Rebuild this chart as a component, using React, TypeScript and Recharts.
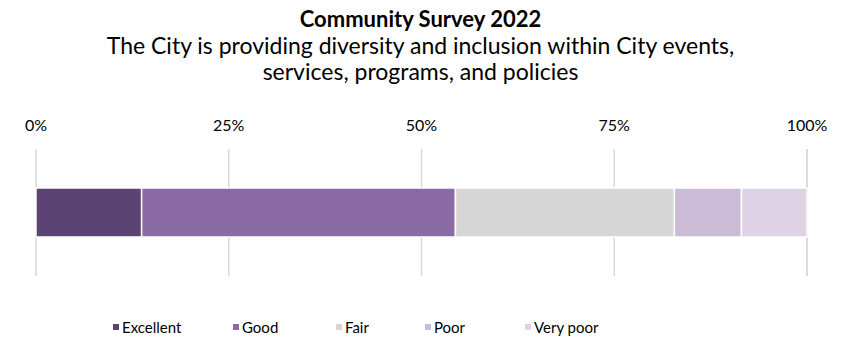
import React from "react";
import { BarChart, Bar, XAxis, YAxis, CartesianGrid } from "recharts";

const categories = ["Community Survey 2022"];
const seriesNames = ["Excellent", "Good", "Fair", "Poor", "Very poor"];
const excellent = [13.7];
const good = [40.7];
const fair = [28.4];
const poor = [8.7];
const veryPoor = [8.5];
const tickValues = [0, 25, 50, 75, 100];
const colors = ["#5B4373", "#8A6BA6", "#D6D6D6", "#CBBBD6", "#DDD3E5"];

const seriesValues = [excellent, good, fair, poor, veryPoor];
const data = categories.map((c, i) => {
  const row: Record<string, any> = { name: c };
  seriesNames.forEach((s, k) => {
    row[s] = seriesValues[k][i];
  });
  return row;
});

const FONT = "Lato, 'Open Sans', sans-serif";
const legendItemWidths = [120, 103, 89, 100, 90];

export default function App() {
  return (
    <div
      style={{
        position: "absolute",
        left: 0,
        top: 0,
        width: 841,
        height: 339,
        background: "#fff",
        fontFamily: FONT,
        color: "#000",
      }}
    >
      <div
        style={{
          position: "absolute",
          left: 0,
          top: 6,
          width: 841,
          textAlign: "center",
          fontSize: 22,
          fontWeight: 700,
          lineHeight: "26px",
        }}
      >
        Community Survey 2022
      </div>
      <div
        style={{
          position: "absolute",
          left: 0,
          top: 32,
          width: 841,
          textAlign: "center",
          fontSize: 23,
          lineHeight: "26px",
        }}
      >
        The City is providing diversity and inclusion within City events,
        <br />
        services, programs, and policies
      </div>
      <div style={{ position: "absolute", left: 0, top: 0 }}>
        <BarChart
          width={841}
          height={339}
          data={data}
          layout="vertical"
          margin={{ top: 119, right: 34, bottom: 63, left: 36 }}
          barCategoryGap={0}
        >
          <CartesianGrid
            horizontal={false}
            vertical={true}
            stroke="#D9D9D9"
            strokeWidth={1.5}
          />
          <XAxis
            type="number"
            orientation="top"
            domain={[0, 100]}
            ticks={tickValues}
            tickFormatter={(v: number) => `${v}%`}
            axisLine={false}
            tickLine={false}
            tickSize={0}
            tickMargin={18}
            height={30}
            interval={0}
            tick={{ fill: "#000", fontSize: 16, fontFamily: FONT }}
          />
          <YAxis type="category" dataKey="name" hide />
          {seriesNames.map((s, k) => (
            <Bar
              key={s}
              dataKey={s}
              stackId="a"
              fill={colors[k]}
              stroke="#fff"
              strokeWidth={1.5}
              barSize={49}
              isAnimationActive={false}
            />
          ))}
        </BarChart>
      </div>
      <div
        style={{
          position: "absolute",
          left: 113,
          top: 317,
          display: "flex",
          alignItems: "center",
          fontSize: 15,
          lineHeight: "20px",
        }}
      >
        {seriesNames.map((s, k) => (
          <div
            key={s}
            style={{
              display: "flex",
              alignItems: "center",
              width: legendItemWidths[k],
              whiteSpace: "nowrap",
            }}
          >
            <span
              style={{
                display: "inline-block",
                width: 6,
                height: 6,
                background: colors[k],
                marginRight: 3,
              }}
            />
            <span>{s}</span>
          </div>
        ))}
      </div>
    </div>
  );
}
